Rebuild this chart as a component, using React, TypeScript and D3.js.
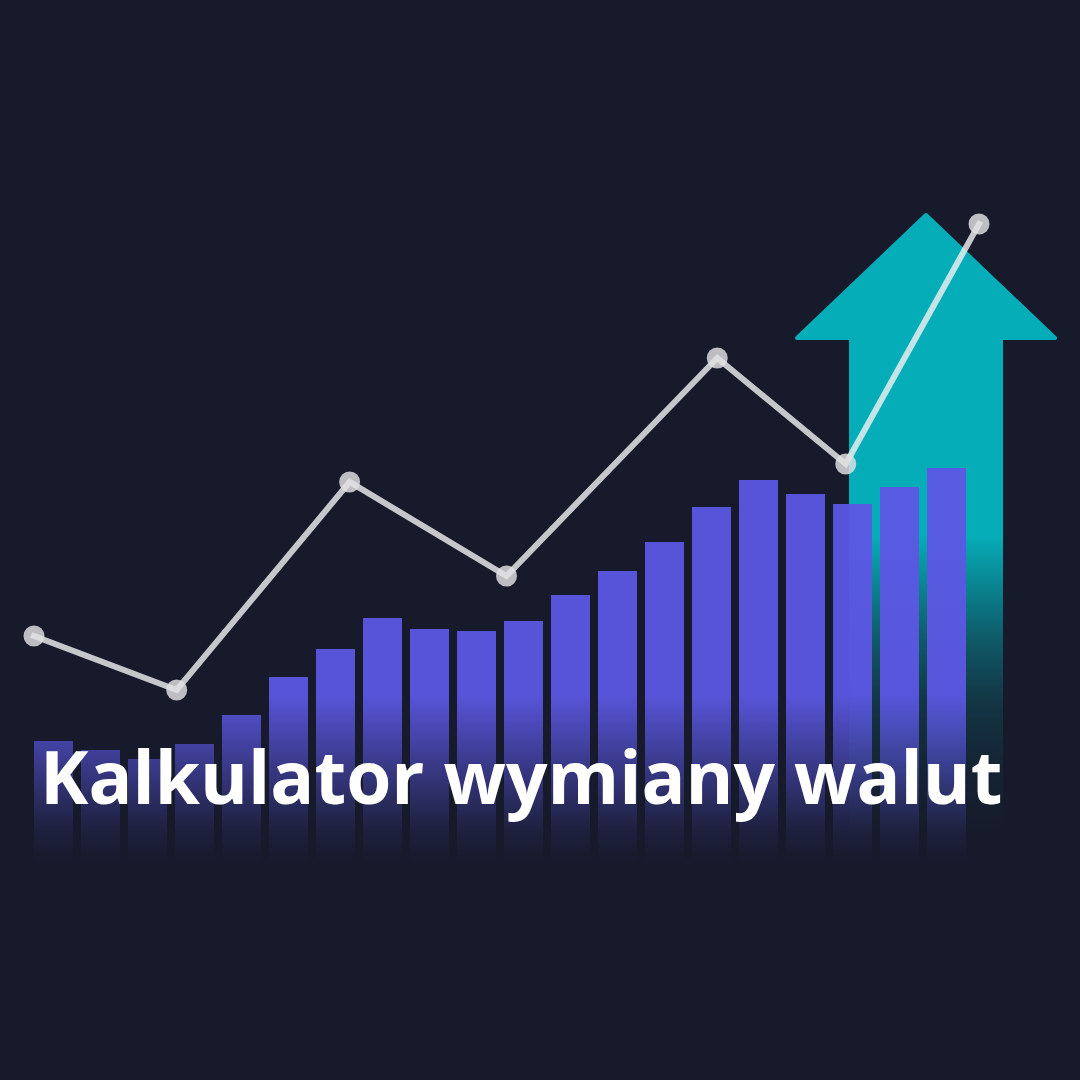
import { useEffect, useRef } from 'react';
import * as d3 from 'd3';

// bar heights (arbitrary units, 1 unit = 1px on the chart)
const barValues = [126, 117, 108, 123, 152, 190, 218, 249, 238, 236, 246, 272, 296, 325, 360, 387, 373, 363, 380, 399];

// line points: position along the period (0-100) and value
const linePositions = [0, 15.1, 33.4, 50, 72.3, 85.9, 100];
const lineValues = [231, 177, 385, 291, 509, 403, 643];

const title = 'Kalkulator wymiany walut';

const WIDTH = 1080;
const HEIGHT = 1080;
const BG = '#161a2a';

export default function App() {
  const svgRef = useRef<SVGSVGElement>(null);

  useEffect(() => {
    if (!svgRef.current) return;
    document.body.style.margin = '0';

    const svg = d3.select(svgRef.current);
    svg.selectAll('*').remove();
    svg.attr('width', WIDTH).attr('height', HEIGHT).attr('viewBox', `0 0 ${WIDTH} ${HEIGHT}`);

    svg.append('rect').attr('width', WIDTH).attr('height', HEIGHT).attr('fill', BG);

    const y = d3.scaleLinear().domain([0, 700]).range([867, 167]);
    const xBar = d3
      .scaleBand<number>()
      .domain(barValues.map((_, i) => i))
      .range([34, 966])
      .paddingInner(8 / 47)
      .paddingOuter(0);
    const xLine = d3.scaleLinear().domain([0, 100]).range([34, 979]);

    const defs = svg.append('defs');

    // bars fade out towards the bottom
    const barGrad = defs
      .append('linearGradient')
      .attr('id', 'barFade')
      .attr('gradientUnits', 'userSpaceOnUse')
      .attr('x1', 0)
      .attr('x2', 0)
      .attr('y1', 695)
      .attr('y2', 862);
    barGrad.append('stop').attr('offset', 0).attr('stop-color', '#5b57e3').attr('stop-opacity', 1);
    barGrad.append('stop').attr('offset', 0.5).attr('stop-color', '#5b57e3').attr('stop-opacity', 0.45);
    barGrad.append('stop').attr('offset', 0.8).attr('stop-color', '#5b57e3').attr('stop-opacity', 0.12);
    barGrad.append('stop').attr('offset', 1).attr('stop-color', '#5b57e3').attr('stop-opacity', 0);

    // arrow shaft fades too
    const arrowGrad = defs
      .append('linearGradient')
      .attr('id', 'arrowFade')
      .attr('gradientUnits', 'userSpaceOnUse')
      .attr('x1', 0)
      .attr('x2', 0)
      .attr('y1', 535)
      .attr('y2', 840);
    arrowGrad.append('stop').attr('offset', 0).attr('stop-color', '#05adb8').attr('stop-opacity', 1);
    arrowGrad.append('stop').attr('offset', 0.33).attr('stop-color', '#05adb8').attr('stop-opacity', 0.45);
    arrowGrad.append('stop').attr('offset', 0.55).attr('stop-color', '#05adb8').attr('stop-opacity', 0.18);
    arrowGrad.append('stop').attr('offset', 0.8).attr('stop-color', '#05adb8').attr('stop-opacity', 0.05);
    arrowGrad.append('stop').attr('offset', 1).attr('stop-color', '#05adb8').attr('stop-opacity', 0);

    // decorative arrow
    const arrow = { tipX: 926, tipY: 215, headL: 797, headR: 1055, headY: 338, shaftL: 849, shaftR: 1003, bottom: 860 };
    const arrowG = svg.append('g');
    arrowG
      .append('path')
      .attr(
        'd',
        `M${arrow.tipX},${arrow.tipY}L${arrow.headR},${arrow.headY}L${arrow.headL},${arrow.headY}Z`
      )
      .attr('fill', '#05adb8')
      .attr('stroke', '#05adb8')
      .attr('stroke-width', 4)
      .attr('stroke-linejoin', 'round');
    arrowG
      .append('rect')
      .attr('x', arrow.shaftL)
      .attr('y', arrow.headY - 1)
      .attr('width', arrow.shaftR - arrow.shaftL)
      .attr('height', arrow.bottom - arrow.headY)
      .attr('fill', 'url(#arrowFade)');

    // bars
    svg
      .append('g')
      .selectAll('rect')
      .data(barValues)
      .enter()
      .append('rect')
      .attr('x', (_, i) => xBar(i)!)
      .attr('y', (d) => y(d))
      .attr('width', xBar.bandwidth())
      .attr('height', (d) => y(0) - y(d))
      .attr('fill', 'url(#barFade)')
      .attr('opacity', 0.95);

    // line
    const points = lineValues.map((v, i) => [xLine(linePositions[i]), y(v)] as [number, number]);
    svg
      .append('path')
      .attr('d', d3.line()(points))
      .attr('fill', 'none')
      .attr('stroke', '#f2f2f4')
      .attr('stroke-opacity', 0.8)
      .attr('stroke-width', 6)
      .attr('stroke-linecap', 'square');

    svg
      .append('g')
      .selectAll('circle')
      .data(points)
      .enter()
      .append('circle')
      .attr('cx', (d) => d[0])
      .attr('cy', (d) => d[1])
      .attr('r', 10.5)
      .attr('fill', '#e2e2e4')
      .attr('fill-opacity', 0.82);

    // title
    svg
      .append('text')
      .attr('x', 40)
      .attr('y', 804)
      .attr('fill', '#ffffff')
      .attr('font-family', '"Open Sans", "Noto Sans", sans-serif')
      .attr('font-weight', 700)
      .attr('font-size', 73)
      .text(title);
  }, []);

  return <svg ref={svgRef} style={{ display: 'block', position: 'absolute', left: 0, top: 0 }} />;
}
